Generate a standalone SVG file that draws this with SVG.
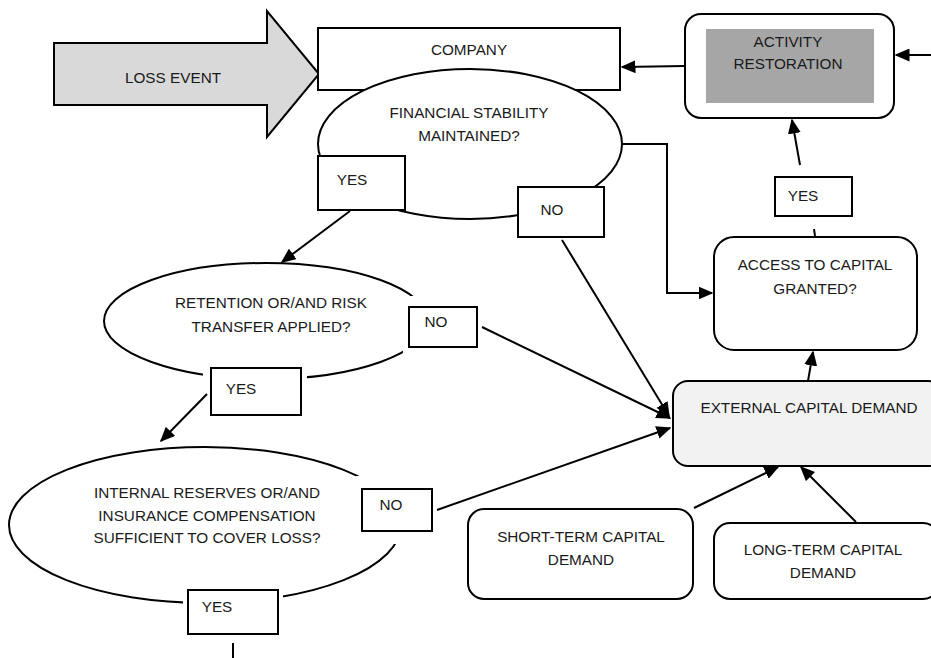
<svg xmlns="http://www.w3.org/2000/svg" width="931" height="658" viewBox="0 0 931 658">
<style>
text{font-family:"Liberation Sans",Arial,sans-serif;font-size:15.3px;fill:#1a1a1a;text-anchor:middle}
.b{fill:#fff;stroke:#000;stroke-width:2}
.l{fill:none;stroke:#000;stroke-width:2}
.h{fill:#fff}
</style>
<defs>
<marker id="ah" viewBox="0 0 10 10" refX="9" refY="5" markerWidth="15" markerHeight="13" markerUnits="userSpaceOnUse" orient="auto" preserveAspectRatio="none">
<path d="M0,0 L10,5 L0,10 z" fill="#000"/>
</marker>
</defs>
<rect width="931" height="658" fill="#fff"/>
<g id="loss-event">
<path d="M54,43 L267,43 L267,11 L319,74 L267,137 L267,105 L54,105 Z" fill="#d9d9d9" stroke="#000" stroke-width="2"/>
<text x="173" y="83">LOSS EVENT</text>
</g>
<g id="company">
<rect class="b" x="318" y="28" width="302" height="62"/>
<text x="469" y="55">COMPANY</text>
</g>
<g id="financial-stability">
<ellipse class="b" cx="470" cy="144" rx="152" ry="75"/>
<text x="469" y="118">FINANCIAL STABILITY</text>
<text x="469" y="141">MAINTAINED?</text>
</g>
<g id="yes1">
<rect class="b" x="318" y="156" width="87" height="54"/>
<text x="352" y="185">YES</text>
</g>
<g id="no1">
<rect class="b" x="518" y="187" width="86" height="50"/>
<text x="552" y="215">NO</text>
</g>
<g id="activity-restoration">
<rect class="b" x="685" y="14" width="209" height="104" rx="16"/>
<rect x="706" y="29" width="168" height="74" fill="#a6a6a6"/>
<text x="788" y="47">ACTIVITY</text>
<text x="788" y="69">RESTORATION</text>
</g>
<g id="yes4">
<rect class="b" x="775" y="177" width="77" height="39"/>
<text x="803" y="201">YES</text>
</g>
<g id="access-capital">
<rect class="b" x="714" y="237" width="203" height="113" rx="20"/>
<text x="815" y="270">ACCESS TO CAPITAL</text>
<text x="815" y="294">GRANTED?</text>
</g>
<g id="external-capital">
<rect x="673" y="381" width="270" height="85" rx="15" fill="#f2f2f2" stroke="#000" stroke-width="2"/>
<text x="809" y="413">EXTERNAL CAPITAL DEMAND</text>
</g>
<g id="retention">
<ellipse class="b" cx="266" cy="321" rx="162" ry="58"/>
<text x="271" y="308">RETENTION OR/AND RISK</text>
<text x="271" y="332">TRANSFER APPLIED?</text>
</g>
<g id="no2">
<rect class="h" x="403" y="296" width="80" height="61"/>
<rect class="b" x="409" y="307" width="68" height="40"/>
<text x="436" y="327">NO</text>
</g>
<g id="yes2">
<rect class="h" x="203" y="360" width="104" height="63"/>
<rect class="b" x="211" y="368" width="90" height="47"/>
<text x="241" y="394">YES</text>
</g>
<g id="internal-reserves">
<ellipse class="b" cx="205" cy="525" rx="196" ry="78"/>
<text x="207" y="498">INTERNAL RESERVES OR/AND</text>
<text x="207" y="521">INSURANCE COMPENSATION</text>
<text x="207" y="543">SUFFICIENT TO COVER LOSS?</text>
</g>
<g id="no3">
<rect class="h" x="356" y="476" width="82" height="68"/>
<rect class="b" x="362" y="489" width="70" height="42"/>
<text x="391" y="510">NO</text>
</g>
<g id="yes3">
<rect class="h" x="183" y="584" width="100" height="56"/>
<rect class="b" x="188" y="590" width="90" height="44"/>
<text x="217" y="612">YES</text>
</g>
<g id="short-term">
<rect class="b" x="468" y="509" width="225" height="90" rx="16"/>
<text x="581" y="542">SHORT-TERM CAPITAL</text>
<text x="581" y="565">DEMAND</text>
</g>
<g id="long-term">
<rect class="b" x="714" y="523" width="225" height="76" rx="16"/>
<text x="823" y="555">LONG-TERM CAPITAL</text>
<text x="823" y="578">DEMAND</text>
</g>
<g id="connectors">
<line class="l" x1="685" y1="66" x2="622" y2="67" marker-end="url(#ah)"/>
<line class="l" x1="931" y1="55" x2="896" y2="55" marker-end="url(#ah)"/>
<polyline class="l" points="622,144 667,144 667,293 712,293" marker-end="url(#ah)"/>
<line class="l" x1="800" y1="165" x2="792" y2="120" marker-end="url(#ah)"/>
<line class="l" x1="814" y1="229" x2="815" y2="236"/>
<line class="l" x1="808" y1="381" x2="813" y2="352" marker-end="url(#ah)"/>
<line class="l" x1="350" y1="211" x2="282" y2="262" marker-end="url(#ah)"/>
<line class="l" x1="207" y1="394" x2="161" y2="441" marker-end="url(#ah)"/>
<line class="l" x1="562" y1="240" x2="669" y2="416" marker-end="url(#ah)"/>
<line class="l" x1="482" y1="327" x2="670" y2="418" marker-end="url(#ah)"/>
<line class="l" x1="437" y1="510" x2="670" y2="428" marker-end="url(#ah)"/>
<line class="l" x1="694" y1="508" x2="778" y2="467" marker-end="url(#ah)"/>
<line class="l" x1="856" y1="522" x2="801" y2="467" marker-end="url(#ah)"/>
<line class="l" x1="233" y1="643" x2="233" y2="658"/>
</g>
</svg>
